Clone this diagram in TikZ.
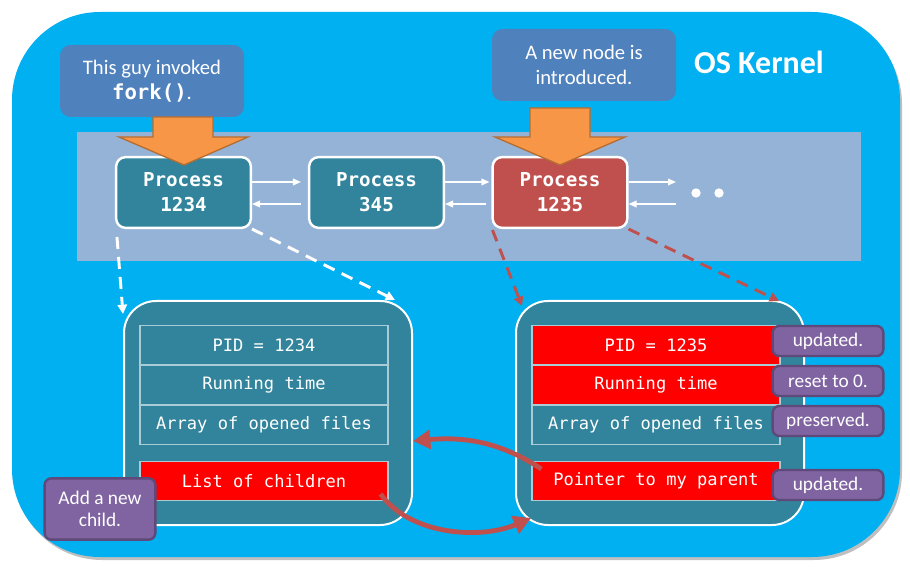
\documentclass[tikz,border=0pt]{standalone}
\usepackage{fontspec}
\setmainfont{Carlito}
\setmonofont{DejaVu Sans Mono}
\usetikzlibrary{arrows.meta}
\definecolor{kernelblue}{HTML}{00B0F0}
\definecolor{listblue}{HTML}{95B3D7}
\definecolor{noteblue}{HTML}{4F81BD}
\definecolor{pcbteal}{HTML}{31849B}
\definecolor{newred}{HTML}{C0504D}
\definecolor{tagpurple}{HTML}{8064A2}
\definecolor{tagedge}{HTML}{5F497A}
\definecolor{forkorange}{HTML}{F79646}
\definecolor{forkedge}{HTML}{B66D31}
\definecolor{fieldedge}{HTML}{A9CCD6}
\begin{document}
\begin{tikzpicture}%
	[x=0.75pt,
	y=-0.75pt,
	kernel/.style={fill=kernelblue},
	shadow/.style={fill=black!25},
	plist/.style={fill=listblue},
	note/.style={fill=noteblue, rounded corners=8pt, text=white, align=center, inner sep=0pt, minimum width=138pt, minimum height=54pt, font=\fontsize{15.5}{18.75}\selectfont},
	tag/.style={draw=tagedge, line width=1.8pt, fill=tagpurple, rounded corners=5pt, text=white, align=center, inner sep=0pt, minimum width=83pt, minimum height=22.5pt, font=\fontsize{14.5}{16.5}\selectfont},
	process/.style={draw=white, line width=1.8pt, fill=pcbteal, rounded corners=7pt, text=white, align=center, inner sep=0pt, minimum width=101pt, minimum height=53pt, font=\ttfamily\bfseries\fontsize{14.4}{18.75}\selectfont},
	newprocess/.style={process, fill=newred},
	pcb/.style={draw=white, line width=1.5pt, fill=pcbteal, rounded corners=24pt, minimum width=216pt, minimum height=168pt},
	field/.style={draw=fieldedge, line width=0.9pt, fill=pcbteal, text=white, inner sep=0pt, minimum width=186pt, minimum height=29pt, font=\ttfamily\fontsize{12.8}{15}\selectfont},
	changedfield/.style={field, fill=red},
	fork/.style={draw=forkedge, line width=1pt, fill=forkorange},
	link/.style={draw=white, line width=1.1pt, -{Triangle[length=6pt,width=5pt]}},
	copyedge/.style={draw=white, line width=2.2pt, dash pattern=on 9pt off 6pt, -{Triangle[length=7pt,width=7pt]}},
	newedge/.style={draw=newred, line width=2.2pt, dash pattern=on 9pt off 6pt, -{Triangle[length=7pt,width=7pt]}},
	ptr/.style={draw=newred, line width=3.6pt, -{Triangle[length=13pt,width=14pt]}}]
%
\useasboundingbox (0,0) rectangle (910,573);
%%
%% Drawing the kernel
%%
\fill[shadow, rounded corners=66pt] (14,16) rectangle (902,560);
\fill[kernel, rounded corners=66pt] (12,12) rectangle (900,557);
\node[text=white, font=\bfseries\fontsize{24}{28}\selectfont] (kernel) at (759,62) {OS Kernel};
\fill[plist] (77,132) rectangle (861,261);
%%
%% Drawing the process list
%%
\node[process] (p1234) at (183.5,192.5) {Process\\1234};
\node[process] (p345) at (376.5,192.5) {Process\\345};
\node[newprocess] (p1235) at (560,192.5) {Process\\1235};
\coordinate (tailtop) at (676,182);
\coordinate (tailbot) at (676,204);
\node[circle, fill=white, inner sep=0pt, minimum size=7pt] (dot1) at (696,193) {};
\node[circle, fill=white, inner sep=0pt, minimum size=7pt] (dot2) at (719,193) {};

\draw[link] ([shift={(0,-10.5)}]p1234.east) -- ([shift={(-7,-10.5)}]p345.west);
\draw[link] ([shift={(-7,11.5)}]p345.west) -- ([shift={(0,11.5)}]p1234.east);
\draw[link] ([shift={(0,-10.5)}]p345.east) -- ([shift={(-2,-10.5)}]p1235.west);
\draw[link] ([shift={(-5,11.5)}]p1235.west) -- ([shift={(0,11.5)}]p345.east);
\draw[link] ([shift={(0,-10.5)}]p1235.east) -- (tailtop);
\draw[link] (tailbot) -- ([shift={(0,11.5)}]p1235.east);
%%
%% Drawing the notes
%%
\node[note] (forknote) at (152,81) {This guy invoked\\\texttt{\textbf{fork()}}.};
\node[note] (newnote) at (584,65) {A new node is\\introduced.};
\draw[fork] (153,117) -- (213,117) -- (213,137) -- (248,137) -- (184,165) -- (119,137) -- (153,137) -- cycle;
\draw[fork] (530,108) -- (590,108) -- (590,137) -- (625,137) -- (560,165) -- (495,137) -- (530,137) -- cycle;
%%
%% Drawing the two PCBs
%%
\node[pcb] (parentpcb) at (268,413) {};
\node[pcb] (childpcb) at (660,413) {};

\node[field] (ppid) at (264,345) {PID = 1234};
\node[field] (ptime) at (264,385) {Running time};
\node[field] (pfiles) at (264,425) {Array of opened files};
\node[changedfield] (pkids) at (264,481) {List of children};

\node[changedfield] (cpid) at (656,345) {PID = 1235};
\node[changedfield] (ctime) at (656,385) {Running time};
\node[field] (cfiles) at (656,425) {Array of opened files};
\node[changedfield] (cparent) at (656,481) {Pointer to my parent};

\node[tag] (pidtag) at (828,341) {updated.};
\node[tag] (timetag) at (828,381) {reset to 0.};
\node[tag] (filetag) at (828,421) {preserved.};
\node[tag] (parenttag) at (828,485) {updated.};
\node[tag, minimum height=46pt] (kidtag) at (100,509) {Add a new\\child.};
%%
%% Drawing the edges
%%
\draw[copyedge] ([shift={(2,8)}]p1234.south west) -- ([shift={(0,14)}]parentpcb.north west);
\draw[copyedge] (p1234.south east) -- ([shift={(-18,0)}]parentpcb.north east);
\draw[newedge] ([shift={(1,1)}]p1235.south west) -- ([shift={(7,6)}]childpcb.north west);
\draw[newedge] (p1235.south east) -- ([shift={(-26,1)}]childpcb.north east);

\draw[ptr] ([shift={(10,-12)}]cparent.west) .. controls (505,445) and (470,436) .. ([shift={(0,28)}]parentpcb.east);
\draw[ptr] ([shift={(-8,13)}]pkids.east) .. controls (410,535) and (480,540) .. ([shift={(16,-8)}]childpcb.south west);

\end{tikzpicture}
\end{document}
